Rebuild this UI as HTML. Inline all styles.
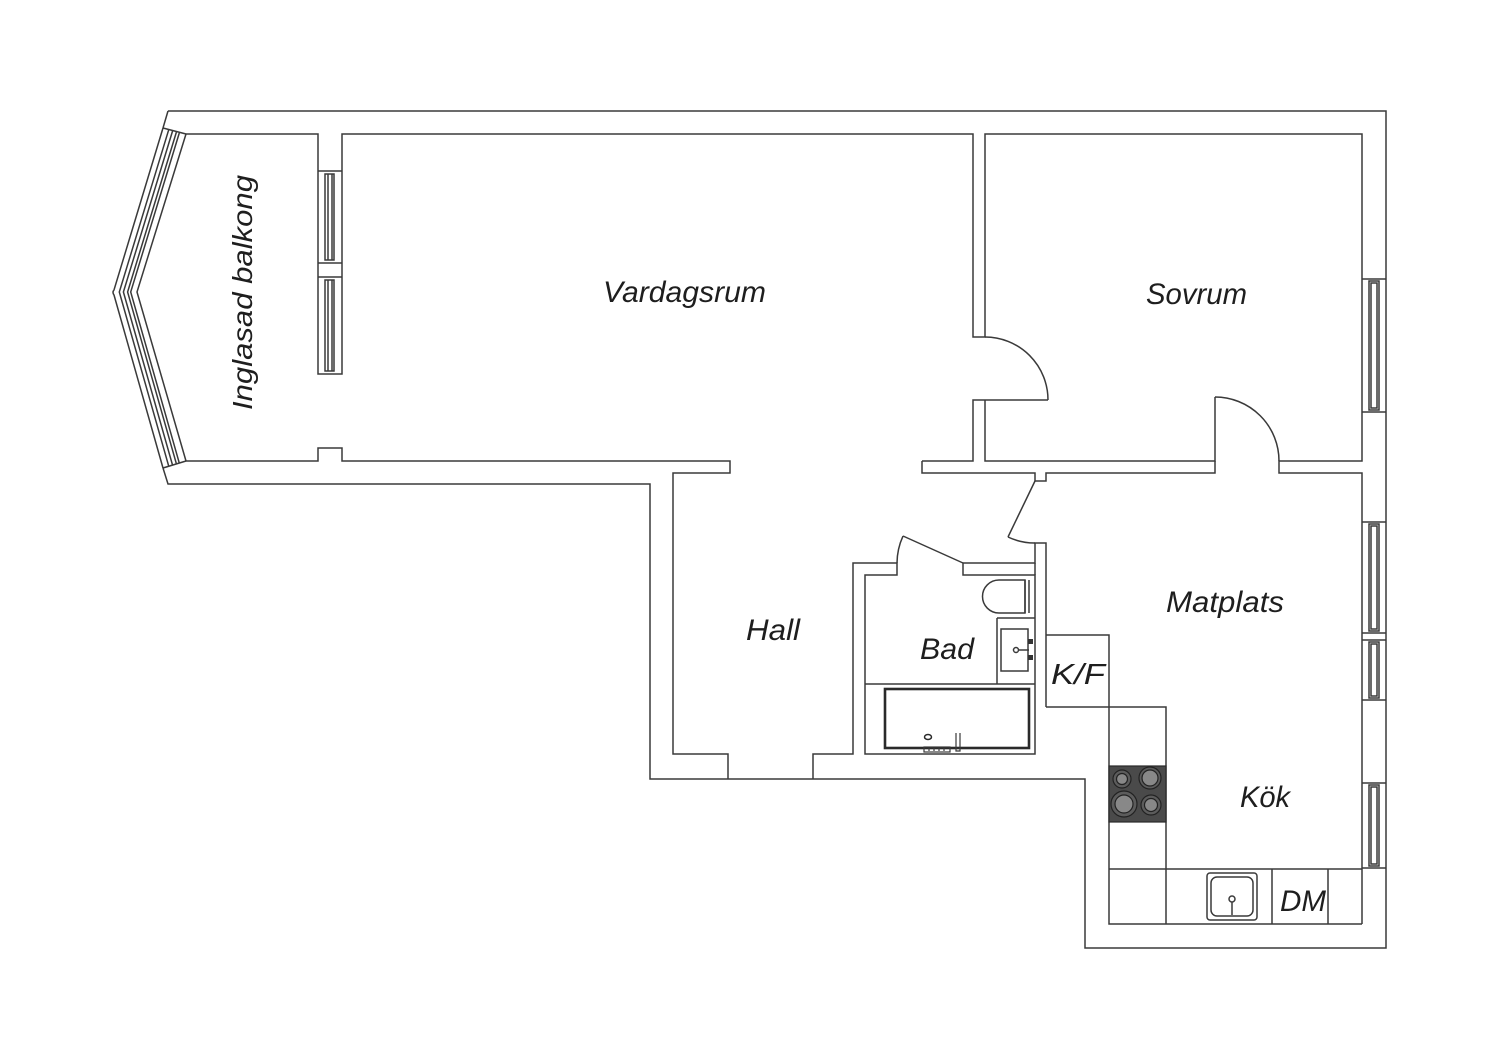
<!DOCTYPE html>
<html>
<head>
<meta charset="utf-8">
<style>
html,body{margin:0;padding:0;background:#fff;}
svg{display:block;}
text{font-family:"Liberation Sans",sans-serif;font-style:italic;fill:#1e1e1e;}
</style>
</head>
<body>
<svg width="1500" height="1060" viewBox="0 0 1500 1060" xmlns="http://www.w3.org/2000/svg">
<rect width="1500" height="1060" fill="#fff"/>
<g fill="none" stroke="#3a3a3a" stroke-width="1.5" stroke-linejoin="miter">
  <!-- outer boundary -->
  <path d="M168,111 H1386 V948 H1085 V779 H650 V484 H168 L163,468"/>
  <path d="M168,111 L163,128"/>
  <!-- balcony glazing (offset polylines) -->
  <path d="M163,128 L114,290 Q112,292 114,295 L163,468"/>
  <path d="M168.7,129.8 L119.3,292 L168.8,466.4"/>
  <path d="M172.6,130.9 L123.4,292 L172.6,465.3"/>
  <path d="M176.4,132.1 L127.6,292 L176.5,464.2"/>
  <path d="M179.3,133 L130.7,292 L179.4,463.4"/>
  <path d="M186,134 L137,292 L186,461"/>
  <path d="M163,128 L186,134"/>
  <path d="M163,468 L186,461"/>
  <!-- balcony / living wall with windows -->
  <path d="M186,134 H318 V374 H342 V134 H973 V337 H985 V134 H1362 V461 H1279 V473 H1362 V924"/>
  <path d="M318,171 H342 M318,263 H342 M318,277 H342"/>
  <path d="M325,174 V260 H334 V174 Z M328,174 V260 M332,174 V260"/>
  <path d="M325,280 V371 H334 V280 Z M328,280 V371 M332,280 V371"/>
  <!-- living bottom wall / hall -->
  <path d="M186,461 H318 V448 H342 V461 H730 V473 H673 V754 H728 V779"/>
  <!-- bathroom walls -->
  <path d="M813,779 V754 H853 V563 H897 V575 H865 V754 H1035 V575 H963 V563 H1035 V543 H1046 V707"/>
  <path d="M1035,563 V575"/>
  <!-- bathroom door -->
  <path d="M963,563 L903,536"/>
  <path d="M903,536 A66,66 0 0 0 897,563"/>
  <!-- partition living / matplats / bedroom -->
  <path d="M922,461 H973 V400 H1048"/>
  <path d="M1048,400 A63,63 0 0 0 985,337"/>
  <path d="M985,400 V461 H1215 V397"/>
  <path d="M1215,397 A64,64 0 0 1 1279,461"/>
  <path d="M922,461 V473 H1035 V481 H1046 V473 H1215 V461"/>
  <!-- kitchen door -->
  <path d="M1035,481 L1008,537"/>
  <path d="M1008,537 A62,62 0 0 0 1035,543"/>
  <!-- K/F and kitchen -->
  <path d="M1046,635 H1109 V924 H1362"/>
  <path d="M1046,707 H1166 V924"/>
  <path d="M1109,869 H1362"/>
  <path d="M1272,869 V924 M1328,869 V924"/>
  <!-- right windows -->
  <path d="M1362,279 H1386 M1362,412 H1386"/>
  <path d="M1369,281 V410 H1379 V281 Z M1371,283 V408 H1377 V283 Z"/>
  <path d="M1362,522 H1386 M1362,633 H1386"/>
  <path d="M1369,524 V631 H1379 V524 Z M1371,526 V629 H1377 V526 Z"/>
  <path d="M1362,640 H1386 M1362,700 H1386"/>
  <path d="M1369,642 V698 H1379 V642 Z M1371,644 V696 H1377 V644 Z"/>
  <path d="M1362,783 H1386 M1362,868 H1386"/>
  <path d="M1369,785 V866 H1379 V785 Z M1371,787 V864 H1377 V787 Z"/>
  <!-- bathroom fixtures -->
  <path d="M865,684 H1035"/>
  <path d="M997,618 H1035 M997,618 V684"/>
  <rect x="1001" y="629" width="27" height="42"/>
  <path d="M1025,580 H999 A16.5,16.5 0 0 0 999,613 H1025 Z"/>
  <path d="M1025,580 V613 M1029,580 V613"/>
  <circle cx="1016" cy="650" r="2.5"/>
  <path d="M1018,650 H1029"/>
  <!-- sink cabinet -->
  <!-- kitchen sink -->
  <rect x="1207" y="873" width="50" height="47" rx="3"/>
  <rect x="1211" y="877" width="42" height="39" rx="6"/>
  <circle cx="1232" cy="899" r="3"/>
  <path d="M1232,902 V915"/>
</g>
<!-- bathtub -->
<rect x="885" y="689" width="144" height="59" fill="none" stroke="#2a2a2a" stroke-width="2.6"/>
<ellipse cx="928" cy="737" rx="3.5" ry="2.5" fill="none" stroke="#2a2a2a" stroke-width="1.5"/>
<path d="M956,733 V751 H960 V733" fill="none" stroke="#3a3a3a" stroke-width="1.2"/>
<rect x="924" y="747" width="26" height="5" fill="none" stroke="#3a3a3a" stroke-width="1.2"/>
<path d="M929,748 V751 M934,748 V751 M939,748 V751 M944,748 V751" stroke="#3a3a3a" stroke-width="1.2"/>
<!-- sink taps -->
<rect x="1028" y="639" width="5" height="5" fill="#333"/>
<rect x="1028" y="655" width="5" height="5" fill="#333"/>
<!-- stove -->
<rect x="1109" y="766" width="57" height="56" fill="#4a4a4a" stroke="#2a2a2a" stroke-width="1.2"/>
<g stroke="#222" stroke-width="1.2">
  <circle cx="1122" cy="779" r="9" fill="#5c5c5c"/>
  <circle cx="1122" cy="779" r="5.5" fill="#888"/>
  <circle cx="1150" cy="778" r="11" fill="#5c5c5c"/>
  <circle cx="1150" cy="778" r="8" fill="#888"/>
  <circle cx="1124" cy="804" r="13" fill="#5c5c5c"/>
  <circle cx="1124" cy="804" r="9" fill="#888"/>
  <circle cx="1151" cy="805" r="10" fill="#5c5c5c"/>
  <circle cx="1151" cy="805" r="6.5" fill="#888"/>
</g>
<!-- labels -->
<text x="603" y="302" font-size="30" textLength="163" lengthAdjust="spacingAndGlyphs">Vardagsrum</text>
<text x="1146" y="304" font-size="30" textLength="101" lengthAdjust="spacingAndGlyphs">Sovrum</text>
<text transform="translate(252,410) rotate(-90)" x="0" y="0" font-size="28" textLength="235" lengthAdjust="spacingAndGlyphs">Inglasad balkong</text>
<text x="746" y="640" font-size="30" textLength="54" lengthAdjust="spacingAndGlyphs">Hall</text>
<text x="920" y="659" font-size="30" textLength="54" lengthAdjust="spacingAndGlyphs">Bad</text>
<text x="1166" y="612" font-size="30" textLength="118" lengthAdjust="spacingAndGlyphs">Matplats</text>
<text x="1240" y="807" font-size="30" textLength="50" lengthAdjust="spacingAndGlyphs">Kök</text>
<text x="1051" y="684" font-size="29" textLength="54" lengthAdjust="spacingAndGlyphs">K/F</text>
<text x="1280" y="911" font-size="30" textLength="46" lengthAdjust="spacingAndGlyphs">DM</text>
</svg>
</body>
</html>
